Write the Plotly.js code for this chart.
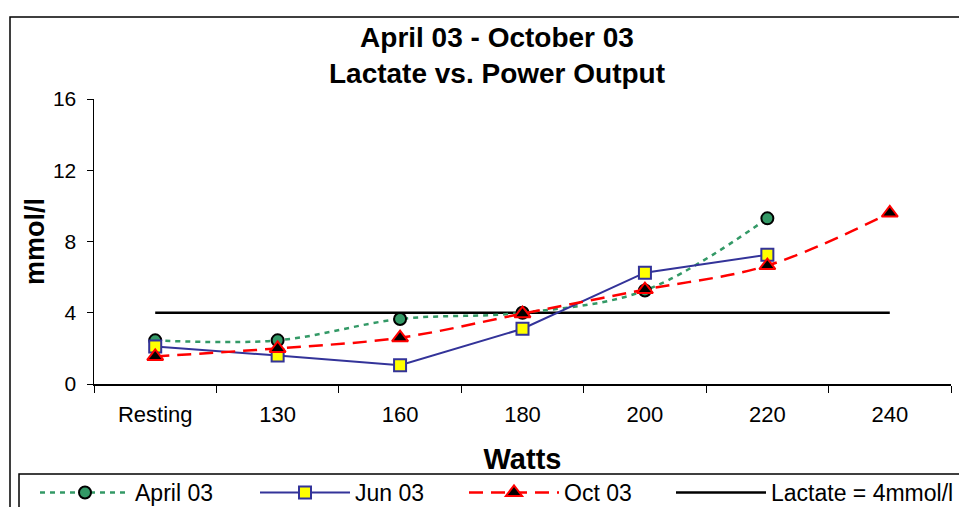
<!DOCTYPE html>
<html><head><meta charset="utf-8">
<script src="https://cdn.plot.ly/plotly-3.0.1.min.js"></script>
<style>html,body{margin:0;padding:0;overflow:hidden;background:#fff;width:959px;height:507px}</style>
</head><body><div id="chart"></div>
<script>
const categories = ["Resting","130","160","180","200","220","240"];
const april03 = [2.45, 2.45, 3.65, 4.0, 5.25, 9.3, null];
const jun03 = [2.1, 1.6, 1.05, 3.1, 6.25, 7.25, null];
const oct03 = [1.55, 2.0, 2.6, 3.95, 5.3, 6.65, 9.6];
const lactate = [4, 4, 4, 4, 4, 4, 4];
const seriesNames = ["April 03","Jun 03","Oct 03","Lactate = 4mmol/l"];

const FONT = "Liberation Sans, Arial, sans-serif";
const px = x => (x - 94) / 857;
const py = y => (384 - y) / 285;

const traces = [
  {x: categories, y: lactate, name: seriesNames[3], type: "scatter", mode: "lines",
   line: {color: "#000000", width: 2.5}, legend: "legend4"},
  {x: categories, y: april03, name: seriesNames[0], type: "scatter", mode: "lines+markers",
   line: {color: "#339966", width: 2.5, dash: "5px,5px", shape: "spline", smoothing: 1},
   marker: {symbol: "circle", size: 12, color: "#339966", line: {color: "#000000", width: 2}},
   legend: "legend"},
  {x: categories, y: jun03, name: seriesNames[1], type: "scatter", mode: "lines+markers",
   line: {color: "#333399", width: 2},
   marker: {symbol: "square", size: 12, color: "#FFFF00", line: {color: "#333399", width: 2}},
   legend: "legend2"},
  {x: categories, y: oct03, name: seriesNames[2], type: "scatter", mode: "lines+markers",
   line: {color: "#FF0000", width: 2.5, dash: "14px,8px", shape: "spline", smoothing: 1},
   marker: {symbol: "triangle-up", size: 14, color: "#000000", line: {color: "#FF0000", width: 2}},
   legend: "legend3"}
];

const legendBase = (xPix) => ({orientation: "h", x: px(xPix), y: py(471), xanchor: "left", yanchor: "top",
  font: {family: FONT, size: 23}, itemwidth: 90, bgcolor: "rgba(0,0,0,0)", borderwidth: 0});

const layout = {
  width: 1000, height: 540,
  margin: {l: 94, r: 1000 - 951, t: 99, b: 540 - 384, autoexpand: false},
  paper_bgcolor: "#ffffff", plot_bgcolor: "#ffffff",
  font: {family: FONT, color: "#000000"},
  title: {text: "April 03 - October 03<br>Lactate vs. Power Output",
          font: {family: FONT, size: 28, weight: "bold"},
          x: px(497), xanchor: "center", xref: "paper", y: 1 - 47/540, yanchor: "middle"},
  xaxis: {type: "category", range: [-0.5, 6.5], showline: true, linecolor: "#000", linewidth: 1.5,
          ticks: "outside", ticklen: 7, tickcolor: "#000", tickson: "boundaries",
          showgrid: false, zeroline: false, ticklabelstandoff: 10,
          tickfont: {family: FONT, size: 22},
          title: {text: "Watts", font: {family: FONT, size: 29, weight: "bold"}, standoff: 23}},
  yaxis: {range: [0, 16], tickvals: [0,4,8,12,16], showline: true, linecolor: "#000", linewidth: 1.5,
          ticks: "outside", ticklen: 6, tickcolor: "#000", showgrid: false, zeroline: false,
          ticklabelstandoff: 6, tickfont: {family: FONT, size: 21},
          title: {text: "mmol/l", font: {family: FONT, size: 27, weight: "bold"}, standoff: 0}},
  showlegend: true,
  legend: legendBase(35),
  legend2: legendBase(255),
  legend3: legendBase(464),
  legend4: legendBase(671),
  shapes: [
    {type: "rect", xref: "paper", yref: "paper", x0: px(10), x1: px(1100), y0: py(600), y1: py(17),
     line: {color: "#000", width: 1.5}, fillcolor: "rgba(0,0,0,0)", layer: "below"},
    {type: "rect", xref: "paper", yref: "paper", x0: px(19), x1: px(1100), y0: py(600), y1: py(474),
     line: {color: "#000", width: 1.5}, fillcolor: "rgba(0,0,0,0)", layer: "below"}
  ]
};

Plotly.newPlot("chart", traces, layout, {displayModeBar: false, staticPlot: true});
</script></body></html>
